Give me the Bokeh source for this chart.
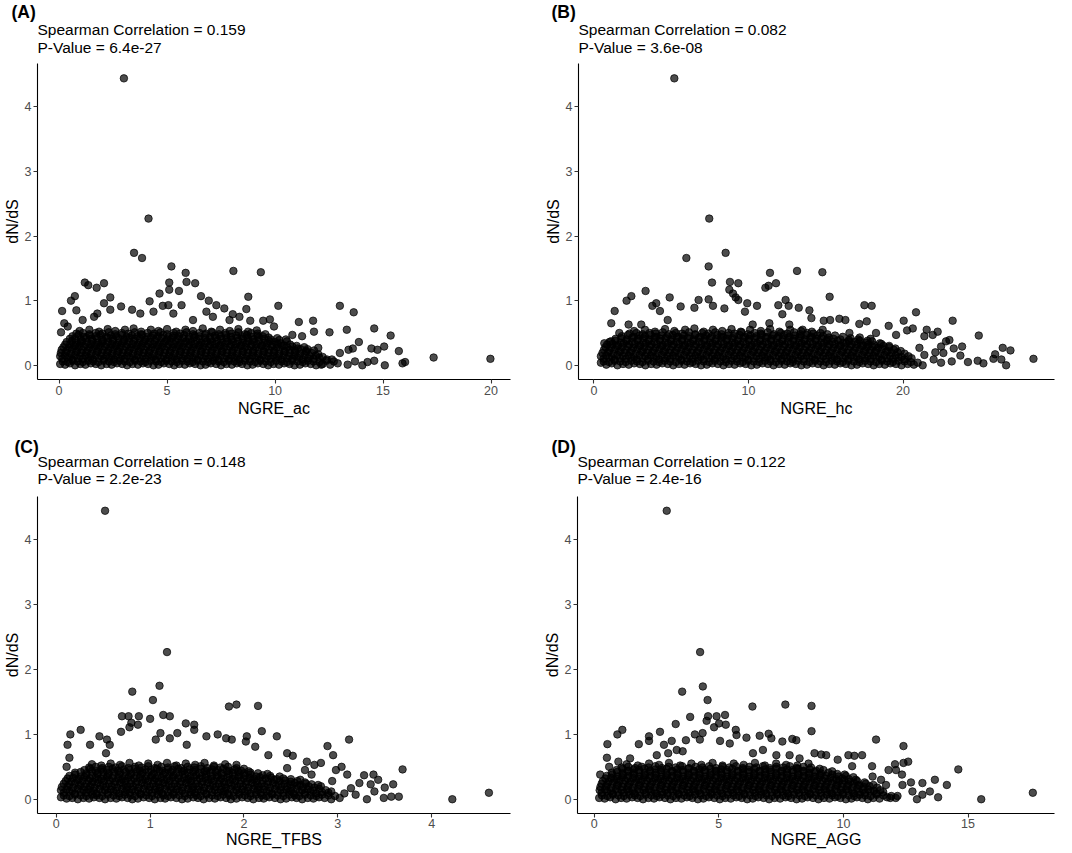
from bokeh.plotting import figure
from bokeh.layouts import column, row
from bokeh.models import FixedTicker, Range1d, Title, ColumnDataSource
from bokeh.embed import file_html
from bokeh.resources import INLINE

FONT = "Liberation Sans"

# ---------------- data ----------------
tags = ["(A)", "(B)", "(C)", "(D)"]
rho_text = ["Spearman Correlation = 0.159", "Spearman Correlation = 0.082",
            "Spearman Correlation = 0.148", "Spearman Correlation = 0.122"]
pval_text = ["P-Value = 6.4e-27", "P-Value = 3.6e-08", "P-Value = 2.2e-23", "P-Value = 2.4e-16"]
x_labels = ["NGRE_ac", "NGRE_hc", "NGRE_TFBS", "NGRE_AGG"]
x_ticks = [[0, 5, 10, 15, 20], [0, 10, 20], [0, 1, 2, 3, 4], [0, 5, 10, 15]]
y_ticks = [0, 1, 2, 3, 4]

# Panel A: NGRE_ac vs dN/dS -- sparse points
ac_sparse = [(3.0,4.44),(4.14,2.27),(3.47,1.74),(3.84,1.66),(5.2,1.53),(5.86,1.43),(8.07,1.46),(9.34,1.44),
(1.19,1.28),(1.35,1.24),(1.74,1.2),(2.08,1.27),(5.1,1.28),(5.9,1.29),(6.3,1.27),(5.1,1.17),(5.55,1.15),
(0.73,1.07),(0.55,1.0),(0.14,0.84),(0.24,0.65),(0.09,0.51),(0.8,0.85),(2.37,1.05),(2.08,0.96),(2.87,0.91),
(4.19,0.99),(4.65,1.11),(4.8,0.92),(5.06,0.93),(6.57,1.07),(6.93,1.0),(7.28,0.93),(7.65,0.88),(8.04,0.79),
(8.76,1.06),(8.67,0.87),(8.85,0.69),(9.45,0.69),(9.76,0.71),(10.15,0.92),(9.95,0.6),(11.1,0.67),(11.76,0.69),
(13.0,0.92),(13.64,0.82),(13.32,0.55),(12.52,0.51),(13.88,0.36),(14.59,0.57),(15.35,0.46),(15.05,0.29),
(14.46,0.26),(14.74,0.24),(15.73,0.22),(14.59,0.07),(15.08,0.0),(15.9,0.03),(16.02,0.05),(14.28,0.05),
(14.04,0.0),(17.34,0.12),(19.97,0.1),(13.4,0.24),(13.6,0.26),(13.7,0.06),(13.36,0.01),(13.0,0.19),
(12.63,0.09),(12.14,0.01),(11.5,0.25),(12.0,0.27),(11.25,0.45),(10.8,0.47),(10.5,0.4),(11.8,0.52),
(7.12,0.75),(6.82,0.83),(6.2,0.7),(5.67,0.93),(3.76,0.8),(3.38,0.86),(2.37,0.86),(1.77,0.8),(1.62,0.75),
(1.09,0.7),(0.4,0.6),(4.37,0.83),(5.29,0.8),(7.89,0.7),(8.35,0.75)]

# Panel A: dense core (rows near dN/dS 0.02, 0.1, 0.19, 0.28, 0.37, 0.45, 0.54)
ac_core = [(0.05,0.02),(0.28,0.01),(0.5,0.03),(0.74,0.0),(0.98,0.02),(1.22,0.01),(1.47,0.03),(1.7,0.02),(1.95,0.0),(2.2,0.02),(2.43,0.01),(2.68,0.03),(2.92,0.02),(3.15,0.0),(3.4,0.02),(3.65,0.01),(3.88,0.03),(4.12,0.02),(4.37,0.0),(4.6,0.01),(4.85,0.03),(5.1,0.02),(5.33,0.0),(5.57,0.02),(5.82,0.01),(6.05,0.03),(6.3,0.02),(6.55,0.0),(6.78,0.01),(7.02,0.03),(7.27,0.02),(7.5,0.0),(7.75,0.02),(8.0,0.01),(8.23,0.03),(8.47,0.02),(8.72,0.0),(8.96,0.01),(9.2,0.03),(9.45,0.02),(9.68,0.0),(9.93,0.02),(10.18,0.01),(10.42,0.03),(10.67,0.02),(10.9,0.0),(11.15,0.01),(11.4,0.03),(11.65,0.02),(11.9,0.0),(12.2,0.02),(12.55,0.01),(12.9,0.03),
(0.15,0.1),(0.4,0.12),(0.62,0.09),(0.86,0.11),(1.1,0.1),(1.35,0.12),(1.58,0.09),(1.83,0.11),(2.07,0.1),(2.32,0.12),(2.55,0.09),(2.8,0.11),(3.03,0.1),(3.28,0.12),(3.52,0.09),(3.76,0.11),(4.0,0.1),(4.25,0.12),(4.48,0.09),(4.72,0.11),(4.97,0.1),(5.22,0.12),(5.45,0.09),(5.7,0.11),(5.94,0.1),(6.18,0.12),(6.42,0.09),(6.67,0.11),(6.9,0.1),(7.15,0.12),(7.38,0.09),(7.63,0.11),(7.87,0.1),(8.12,0.12),(8.35,0.09),(8.6,0.11),(8.84,0.1),(9.08,0.12),(9.32,0.09),(9.57,0.11),(9.8,0.1),(10.05,0.12),(10.3,0.09),(10.55,0.11),(10.8,0.1),(11.03,0.12),(11.28,0.09),(11.52,0.11),(11.78,0.1),(12.05,0.12),(12.4,0.09),
(0.08,0.19),(0.3,0.2),(0.55,0.18),(0.78,0.21),(1.02,0.19),(1.26,0.2),(1.5,0.18),(1.75,0.21),(1.98,0.19),(2.23,0.2),(2.47,0.18),(2.7,0.21),(2.95,0.19),(3.2,0.2),(3.43,0.18),(3.67,0.21),(3.92,0.19),(4.15,0.2),(4.4,0.18),(4.64,0.21),(4.88,0.19),(5.12,0.2),(5.36,0.18),(5.6,0.21),(5.85,0.19),(6.08,0.2),(6.33,0.18),(6.57,0.21),(6.8,0.19),(7.05,0.2),(7.3,0.18),(7.53,0.21),(7.78,0.19),(8.02,0.2),(8.26,0.18),(8.5,0.21),(8.75,0.19),(8.98,0.2),(9.23,0.18),(9.47,0.21),(9.7,0.19),(9.95,0.2),(10.2,0.18),(10.44,0.21),(10.68,0.19),(10.92,0.2),(11.17,0.18),(11.42,0.21),(11.7,0.19),(12.0,0.17),
(0.2,0.28),(0.45,0.27),(0.68,0.3),(0.92,0.28),(1.15,0.29),(1.4,0.27),(1.63,0.3),(1.88,0.28),(2.12,0.29),(2.36,0.27),(2.6,0.3),(2.84,0.28),(3.08,0.29),(3.32,0.27),(3.56,0.3),(3.8,0.28),(4.04,0.29),(4.28,0.27),(4.52,0.3),(4.76,0.28),(5.0,0.29),(5.25,0.27),(5.48,0.3),(5.72,0.28),(5.97,0.29),(6.2,0.27),(6.45,0.3),(6.68,0.28),(6.93,0.29),(7.17,0.27),(7.4,0.3),(7.65,0.28),(7.9,0.29),(8.13,0.27),(8.38,0.3),(8.62,0.28),(8.86,0.29),(9.1,0.27),(9.35,0.3),(9.58,0.28),(9.83,0.29),(10.07,0.27),(10.32,0.3),(10.56,0.28),(10.8,0.29),(11.05,0.26),(11.35,0.28),
(0.35,0.36),(0.6,0.38),(0.83,0.35),(1.07,0.37),(1.3,0.36),(1.55,0.38),(1.8,0.35),(2.03,0.37),(2.27,0.36),(2.5,0.38),(2.75,0.35),(3.0,0.37),(3.23,0.36),(3.47,0.38),(3.72,0.35),(3.95,0.37),(4.2,0.36),(4.43,0.38),(4.68,0.35),(4.92,0.37),(5.16,0.36),(5.4,0.38),(5.64,0.35),(5.88,0.37),(6.12,0.36),(6.37,0.38),(6.6,0.35),(6.85,0.37),(7.08,0.36),(7.33,0.38),(7.57,0.35),(7.8,0.37),(8.05,0.36),(8.3,0.38),(8.53,0.35),(8.77,0.37),(9.02,0.36),(9.25,0.38),(9.5,0.35),(9.75,0.37),(10.0,0.36),(10.25,0.34),(10.55,0.37),
(0.62,0.45),(0.9,0.47),(1.15,0.44),(1.42,0.46),(1.68,0.45),(1.92,0.47),(2.17,0.44),(2.4,0.46),(2.65,0.45),(2.9,0.47),(3.12,0.44),(3.37,0.46),(3.62,0.45),(3.85,0.47),(4.1,0.44),(4.35,0.46),(4.58,0.45),(4.82,0.47),(5.07,0.44),(5.3,0.46),(5.55,0.45),(5.78,0.47),(6.02,0.44),(6.27,0.46),(6.5,0.45),(6.75,0.47),(7.0,0.44),(7.22,0.46),(7.48,0.45),(7.72,0.47),(7.95,0.44),(8.2,0.46),(8.45,0.45),(8.7,0.47),(8.93,0.44),(9.18,0.46),(9.42,0.45),(9.7,0.43),(10.1,0.42),
(0.95,0.53),(1.4,0.55),(1.85,0.52),(2.25,0.56),(2.6,0.53),(3.05,0.55),(3.45,0.57),(3.8,0.52),(4.25,0.55),(4.6,0.53),(5.0,0.56),(5.42,0.52),(5.85,0.55),(6.2,0.53),(6.65,0.57),(7.05,0.52),(7.45,0.55),(7.9,0.53),(8.3,0.56),(8.75,0.52),(9.15,0.54)]

# Panel A: dense core, in-between rows (near 0.06, 0.145, 0.235, 0.32, 0.41, 0.49)
ac_core_mid = [(0.17,0.06),(0.4,0.05),(0.63,0.07),(0.86,0.06),(1.1,0.05),(1.34,0.07),(1.58,0.06),(1.82,0.05),(2.07,0.07),(2.31,0.06),(2.55,0.05),(2.8,0.07),(3.04,0.06),(3.28,0.05),(3.52,0.07),(3.77,0.06),(4.0,0.05),(4.24,0.07),(4.49,0.06),(4.73,0.05),(4.97,0.07),(5.21,0.06),(5.45,0.05),(5.7,0.07),(5.94,0.06),(6.18,0.05),(6.42,0.07),(6.66,0.06),(6.9,0.05),(7.14,0.07),(7.39,0.06),(7.63,0.05),(7.87,0.07),(8.11,0.06),(8.35,0.05),(8.6,0.07),(8.84,0.06),(9.08,0.05),(9.32,0.07),(9.56,0.06),(9.8,0.05),(10.05,0.07),(10.3,0.06),(10.55,0.05),(10.79,0.07),(11.03,0.06),(11.28,0.05),(11.52,0.07),(11.78,0.06),(12.05,0.05),(12.38,0.07),(12.72,0.06),
(0.05,0.14),(0.27,0.15),(0.5,0.13),(0.74,0.16),(0.98,0.14),(1.22,0.15),(1.46,0.13),(1.7,0.16),(1.95,0.14),(2.19,0.15),(2.43,0.13),(2.67,0.16),(2.91,0.14),(3.15,0.15),(3.4,0.13),(3.64,0.16),(3.88,0.14),(4.12,0.15),(4.36,0.13),(4.6,0.16),(4.84,0.14),(5.09,0.15),(5.33,0.13),(5.57,0.16),(5.81,0.14),(6.05,0.15),(6.3,0.13),(6.54,0.16),(6.78,0.14),(7.02,0.15),(7.26,0.13),(7.5,0.16),(7.75,0.14),(7.99,0.15),(8.23,0.13),(8.47,0.16),(8.71,0.14),(8.95,0.15),(9.2,0.13),(9.44,0.16),(9.68,0.14),(9.92,0.15),(10.16,0.13),(10.4,0.16),(10.65,0.14),(10.89,0.15),(11.13,0.13),(11.38,0.16),(11.62,0.14),(11.88,0.15),(12.2,0.13),
(0.12,0.24),(0.36,0.23),(0.6,0.25),(0.84,0.22),(1.08,0.24),(1.32,0.23),(1.56,0.25),(1.8,0.22),(2.04,0.24),(2.28,0.23),(2.52,0.25),(2.76,0.22),(3.0,0.24),(3.24,0.23),(3.48,0.25),(3.72,0.22),(3.96,0.24),(4.2,0.23),(4.44,0.25),(4.68,0.22),(4.92,0.24),(5.16,0.23),(5.4,0.25),(5.64,0.22),(5.88,0.24),(6.12,0.23),(6.36,0.25),(6.6,0.22),(6.84,0.24),(7.08,0.23),(7.32,0.25),(7.56,0.22),(7.8,0.24),(8.04,0.23),(8.28,0.25),(8.52,0.22),(8.76,0.24),(9.0,0.23),(9.24,0.25),(9.48,0.22),(9.72,0.24),(9.96,0.23),(10.2,0.25),(10.44,0.22),(10.68,0.24),(10.92,0.23),(11.18,0.25),(11.45,0.22),(11.8,0.23),
(0.28,0.32),(0.52,0.33),(0.76,0.31),(1.0,0.34),(1.24,0.32),(1.48,0.33),(1.72,0.31),(1.96,0.34),(2.2,0.32),(2.44,0.33),(2.68,0.31),(2.92,0.34),(3.16,0.32),(3.4,0.33),(3.64,0.31),(3.88,0.34),(4.12,0.32),(4.36,0.33),(4.6,0.31),(4.84,0.34),(5.08,0.32),(5.32,0.33),(5.56,0.31),(5.8,0.34),(6.04,0.32),(6.28,0.33),(6.52,0.31),(6.76,0.34),(7.0,0.32),(7.24,0.33),(7.48,0.31),(7.72,0.34),(7.96,0.32),(8.2,0.33),(8.44,0.31),(8.68,0.34),(8.92,0.32),(9.16,0.33),(9.4,0.31),(9.64,0.34),(9.88,0.32),(10.12,0.33),(10.4,0.31),(10.7,0.32),(11.0,0.3),
(0.5,0.41),(0.75,0.42),(1.0,0.4),(1.25,0.43),(1.5,0.41),(1.75,0.42),(2.0,0.4),(2.25,0.43),(2.5,0.41),(2.75,0.42),(3.0,0.4),(3.25,0.43),(3.5,0.41),(3.75,0.42),(4.0,0.4),(4.25,0.43),(4.5,0.41),(4.75,0.42),(5.0,0.4),(5.25,0.43),(5.5,0.41),(5.75,0.42),(6.0,0.4),(6.25,0.43),(6.5,0.41),(6.75,0.42),(7.0,0.4),(7.25,0.43),(7.5,0.41),(7.75,0.42),(8.0,0.4),(8.25,0.43),(8.5,0.41),(8.75,0.42),(9.0,0.4),(9.25,0.43),(9.5,0.41),(9.8,0.4),(10.2,0.39),
(0.8,0.49),(1.1,0.5),(1.4,0.48),(1.7,0.5),(2.0,0.49),(2.3,0.51),(2.6,0.48),(2.9,0.5),(3.2,0.49),(3.5,0.51),(3.8,0.48),(4.1,0.5),(4.4,0.49),(4.7,0.51),(5.0,0.48),(5.3,0.5),(5.6,0.49),(5.9,0.51),(6.2,0.48),(6.5,0.5),(6.8,0.49),(7.1,0.51),(7.4,0.48),(7.7,0.5),(8.0,0.49),(8.3,0.51),(8.6,0.48),(8.9,0.5),(9.2,0.49),(9.55,0.48)]

# Panel B: NGRE_hc vs dN/dS -- sparse points
hc_sparse = [(5.2,4.44),(7.46,2.27),(8.52,1.74),(5.98,1.66),(7.42,1.53),(11.39,1.43),(13.14,1.46),(14.78,1.44),
(7.64,1.28),(8.8,1.29),(9.34,1.27),(11.09,1.2),(11.3,1.23),(11.78,1.27),(8.76,1.17),(9.0,1.11),(9.17,1.05),
(2.42,1.07),(2.11,1.0),(1.34,0.84),(1.12,0.65),(3.34,1.15),(4.9,1.05),(3.78,0.92),(4.03,0.96),(4.27,0.84),
(5.61,0.91),(6.77,1.01),(6.5,0.89),(7.42,1.02),(7.7,0.92),(8.44,0.88),(9.92,0.96),(9.34,1.01),(10.55,0.92),
(9.77,0.83),(12.4,1.01),(11.93,0.93),(12.6,0.92),(13.25,0.89),(13.94,0.85),(12.19,0.79),(15.25,1.06),
(14.87,0.69),(15.28,0.7),(15.88,0.72),(16.27,0.7),(14.07,0.73),(17.5,0.93),(17.97,0.92),(17.17,0.64),
(17.65,0.68),(19.07,0.61),(20.04,0.69),(20.84,0.82),(20.26,0.54),(20.63,0.57),(19.55,0.47),(21.38,0.45),
(21.53,0.55),(22.24,0.52),(21.92,0.47),(23.21,0.69),(24.9,0.46),(22.78,0.37),(22.46,0.29),(22.09,0.2),
(23.28,0.26),(23.82,0.29),(23.0,0.39),(22.61,0.19),(23.15,0.06),(23.71,0.15),(24.2,0.05),(24.83,0.07),
(25.2,0.03),(25.85,0.1),(25.96,0.17),(26.45,0.27),(26.95,0.23),(26.36,0.09),(26.67,0.0),(28.44,0.1),
(21.98,0.09),(21.38,0.16),(22.46,0.04),(21.27,0.0),(21.06,0.27),(1.1,0.37),(0.67,0.34),(1.64,0.5),
(2.24,0.63),(3.06,0.63),(4.77,0.7),(12.64,0.63),(13.5,0.55),(16.53,0.5),(18.25,0.5),(11.35,0.65),(10.27,0.63)]

# Panel B: dense core
hc_core = [(0.45,0.04),(0.8,0.01),(1.15,0.03),(1.52,0.0),(1.88,0.02),(2.25,0.01),(2.6,0.03),(2.97,0.02),(3.33,0.0),(3.7,0.02),(4.05,0.01),(4.42,0.03),(4.78,0.02),(5.13,0.0),(5.5,0.02),(5.86,0.01),(6.22,0.03),(6.58,0.02),(6.93,0.0),(7.3,0.01),(7.66,0.03),(8.02,0.02),(8.38,0.0),(8.74,0.02),(9.1,0.01),(9.46,0.03),(9.82,0.02),(10.18,0.0),(10.54,0.01),(10.9,0.03),(11.26,0.02),(11.62,0.0),(11.98,0.02),(12.34,0.01),(12.7,0.03),(13.06,0.02),(13.42,0.0),(13.78,0.01),(14.14,0.03),(14.5,0.02),(14.86,0.0),(15.22,0.02),(15.58,0.01),(15.94,0.03),(16.3,0.02),(16.66,0.0),(17.02,0.01),(17.38,0.03),(17.74,0.02),(18.1,0.0),(18.46,0.02),(18.82,0.01),(19.18,0.03),(19.54,0.02),(19.9,0.0),(20.3,0.02),(20.7,0.01),
(0.62,0.1),(0.98,0.12),(1.34,0.09),(1.7,0.11),(2.06,0.1),(2.42,0.12),(2.78,0.09),(3.14,0.11),(3.5,0.1),(3.86,0.12),(4.22,0.09),(4.58,0.11),(4.94,0.1),(5.3,0.12),(5.66,0.09),(6.02,0.11),(6.38,0.1),(6.74,0.12),(7.1,0.09),(7.46,0.11),(7.82,0.1),(8.18,0.12),(8.54,0.09),(8.9,0.11),(9.26,0.1),(9.62,0.12),(9.98,0.09),(10.34,0.11),(10.7,0.1),(11.06,0.12),(11.42,0.09),(11.78,0.11),(12.14,0.1),(12.5,0.12),(12.86,0.09),(13.22,0.11),(13.58,0.1),(13.94,0.12),(14.3,0.09),(14.66,0.11),(15.02,0.1),(15.38,0.12),(15.74,0.09),(16.1,0.11),(16.46,0.1),(16.82,0.12),(17.18,0.09),(17.54,0.11),(17.9,0.1),(18.26,0.12),(18.62,0.09),(18.98,0.11),(19.34,0.1),(19.7,0.12),(20.1,0.09),(20.55,0.11),
(0.55,0.19),(0.9,0.2),(1.26,0.18),(1.62,0.21),(1.98,0.19),(2.34,0.2),(2.7,0.18),(3.06,0.21),(3.42,0.19),(3.78,0.2),(4.14,0.18),(4.5,0.21),(4.86,0.19),(5.22,0.2),(5.58,0.18),(5.94,0.21),(6.3,0.19),(6.66,0.2),(7.02,0.18),(7.38,0.21),(7.74,0.19),(8.1,0.2),(8.46,0.18),(8.82,0.21),(9.18,0.19),(9.54,0.2),(9.9,0.18),(10.26,0.21),(10.62,0.19),(10.98,0.2),(11.34,0.18),(11.7,0.21),(12.06,0.19),(12.42,0.2),(12.78,0.18),(13.14,0.21),(13.5,0.19),(13.86,0.2),(14.22,0.18),(14.58,0.21),(14.94,0.19),(15.3,0.2),(15.66,0.18),(16.02,0.21),(16.38,0.19),(16.74,0.2),(17.1,0.18),(17.46,0.21),(17.82,0.19),(18.18,0.2),(18.54,0.18),(18.9,0.21),(19.26,0.19),(19.65,0.2),(20.1,0.18),
(0.75,0.28),(1.1,0.27),(1.46,0.3),(1.82,0.28),(2.18,0.29),(2.54,0.27),(2.9,0.3),(3.26,0.28),(3.62,0.29),(3.98,0.27),(4.34,0.3),(4.7,0.28),(5.06,0.29),(5.42,0.27),(5.78,0.3),(6.14,0.28),(6.5,0.29),(6.86,0.27),(7.22,0.3),(7.58,0.28),(7.94,0.29),(8.3,0.27),(8.66,0.3),(9.02,0.28),(9.38,0.29),(9.74,0.27),(10.1,0.3),(10.46,0.28),(10.82,0.29),(11.18,0.27),(11.54,0.3),(11.9,0.28),(12.26,0.29),(12.62,0.27),(12.98,0.3),(13.34,0.28),(13.7,0.29),(14.06,0.27),(14.42,0.3),(14.78,0.28),(15.14,0.29),(15.5,0.27),(15.86,0.3),(16.22,0.28),(16.58,0.29),(16.94,0.27),(17.3,0.3),(17.66,0.28),(18.02,0.29),(18.38,0.27),(18.74,0.3),(19.1,0.28),(19.5,0.26),
(1.0,0.36),(1.38,0.38),(1.74,0.35),(2.1,0.37),(2.46,0.36),(2.82,0.38),(3.18,0.35),(3.54,0.37),(3.9,0.36),(4.26,0.38),(4.62,0.35),(4.98,0.37),(5.34,0.36),(5.7,0.38),(6.06,0.35),(6.42,0.37),(6.78,0.36),(7.14,0.38),(7.5,0.35),(7.86,0.37),(8.22,0.36),(8.58,0.38),(8.94,0.35),(9.3,0.37),(9.66,0.36),(10.02,0.38),(10.38,0.35),(10.74,0.37),(11.1,0.36),(11.46,0.38),(11.82,0.35),(12.18,0.37),(12.54,0.36),(12.9,0.38),(13.26,0.35),(13.62,0.37),(13.98,0.36),(14.34,0.38),(14.7,0.35),(15.06,0.37),(15.42,0.36),(15.78,0.38),(16.14,0.35),(16.5,0.37),(16.86,0.36),(17.22,0.38),(17.6,0.35),(18.0,0.37),(18.5,0.34),
(1.8,0.45),(2.2,0.47),(2.58,0.44),(2.95,0.46),(3.3,0.45),(3.66,0.47),(4.02,0.44),(4.38,0.46),(4.74,0.45),(5.1,0.47),(5.46,0.44),(5.82,0.46),(6.18,0.45),(6.54,0.47),(6.9,0.44),(7.26,0.46),(7.62,0.45),(7.98,0.47),(8.34,0.44),(8.7,0.46),(9.06,0.45),(9.42,0.47),(9.78,0.44),(10.14,0.46),(10.5,0.45),(10.86,0.47),(11.22,0.44),(11.58,0.46),(11.94,0.45),(12.3,0.47),(12.66,0.44),(13.02,0.46),(13.38,0.45),(13.74,0.47),(14.1,0.44),(14.46,0.46),(14.82,0.45),(15.2,0.43),(15.6,0.46),(16.1,0.44),(16.6,0.42),(17.2,0.43),(17.9,0.41),
(2.6,0.53),(3.3,0.55),(3.95,0.52),(4.6,0.56),(5.2,0.53),(5.9,0.55),(6.5,0.57),(7.1,0.52),(7.7,0.55),(8.3,0.53),(8.9,0.56),(9.5,0.52),(10.1,0.55),(10.8,0.53),(11.4,0.56),(12.0,0.52),(12.7,0.55),(13.4,0.53),(14.1,0.52),(14.8,0.55)]

hc_core_mid = [(0.63,0.06),(0.98,0.05),(1.34,0.07),(1.7,0.06),(2.06,0.05),(2.42,0.07),(2.78,0.06),(3.14,0.05),(3.5,0.07),(3.86,0.06),(4.22,0.05),(4.58,0.07),(4.94,0.06),(5.3,0.05),(5.66,0.07),(6.02,0.06),(6.38,0.05),(6.74,0.07),(7.1,0.06),(7.46,0.05),(7.82,0.07),(8.18,0.06),(8.54,0.05),(8.9,0.07),(9.26,0.06),(9.62,0.05),(9.98,0.07),(10.34,0.06),(10.7,0.05),(11.06,0.07),(11.42,0.06),(11.78,0.05),(12.14,0.07),(12.5,0.06),(12.86,0.05),(13.22,0.07),(13.58,0.06),(13.94,0.05),(14.3,0.07),(14.66,0.06),(15.02,0.05),(15.38,0.07),(15.74,0.06),(16.1,0.05),(16.46,0.07),(16.82,0.06),(17.18,0.05),(17.54,0.07),(17.9,0.06),(18.26,0.05),(18.62,0.07),(18.98,0.06),(19.34,0.05),(19.7,0.07),(20.1,0.06),(20.5,0.05),(20.95,0.04),
(0.45,0.14),(0.8,0.15),(1.16,0.13),(1.52,0.16),(1.88,0.14),(2.24,0.15),(2.6,0.13),(2.96,0.16),(3.32,0.14),(3.68,0.15),(4.04,0.13),(4.4,0.16),(4.76,0.14),(5.12,0.15),(5.48,0.13),(5.84,0.16),(6.2,0.14),(6.56,0.15),(6.92,0.13),(7.28,0.16),(7.64,0.14),(8.0,0.15),(8.36,0.13),(8.72,0.16),(9.08,0.14),(9.44,0.15),(9.8,0.13),(10.16,0.16),(10.52,0.14),(10.88,0.15),(11.24,0.13),(11.6,0.16),(11.96,0.14),(12.32,0.15),(12.68,0.13),(13.04,0.16),(13.4,0.14),(13.76,0.15),(14.12,0.13),(14.48,0.16),(14.84,0.14),(15.2,0.15),(15.56,0.13),(15.92,0.16),(16.28,0.14),(16.64,0.15),(17.0,0.13),(17.36,0.16),(17.72,0.14),(18.08,0.15),(18.44,0.13),(18.8,0.16),(19.16,0.14),(19.52,0.15),(19.9,0.13),(20.35,0.14),
(0.65,0.24),(1.0,0.23),(1.36,0.25),(1.72,0.22),(2.08,0.24),(2.44,0.23),(2.8,0.25),(3.16,0.22),(3.52,0.24),(3.88,0.23),(4.24,0.25),(4.6,0.22),(4.96,0.24),(5.32,0.23),(5.68,0.25),(6.04,0.22),(6.4,0.24),(6.76,0.23),(7.12,0.25),(7.48,0.22),(7.84,0.24),(8.2,0.23),(8.56,0.25),(8.92,0.22),(9.28,0.24),(9.64,0.23),(10.0,0.25),(10.36,0.22),(10.72,0.24),(11.08,0.23),(11.44,0.25),(11.8,0.22),(12.16,0.24),(12.52,0.23),(12.88,0.25),(13.24,0.22),(13.6,0.24),(13.96,0.23),(14.32,0.25),(14.68,0.22),(15.04,0.24),(15.4,0.23),(15.76,0.25),(16.12,0.22),(16.48,0.24),(16.84,0.23),(17.2,0.25),(17.56,0.22),(17.92,0.24),(18.28,0.23),(18.64,0.25),(19.0,0.22),(19.4,0.24),(19.85,0.22),
(0.85,0.32),(1.2,0.33),(1.56,0.31),(1.92,0.34),(2.28,0.32),(2.64,0.33),(3.0,0.31),(3.36,0.34),(3.72,0.32),(4.08,0.33),(4.44,0.31),(4.8,0.34),(5.16,0.32),(5.52,0.33),(5.88,0.31),(6.24,0.34),(6.6,0.32),(6.96,0.33),(7.32,0.31),(7.68,0.34),(8.04,0.32),(8.4,0.33),(8.76,0.31),(9.12,0.34),(9.48,0.32),(9.84,0.33),(10.2,0.31),(10.56,0.34),(10.92,0.32),(11.28,0.33),(11.64,0.31),(12.0,0.34),(12.36,0.32),(12.72,0.33),(13.08,0.31),(13.44,0.34),(13.8,0.32),(14.16,0.33),(14.52,0.31),(14.88,0.34),(15.24,0.32),(15.6,0.33),(15.96,0.31),(16.32,0.34),(16.68,0.32),(17.04,0.33),(17.4,0.31),(17.76,0.32),(18.15,0.31),(18.6,0.33),(19.1,0.3),
(1.4,0.41),(1.76,0.42),(2.12,0.4),(2.48,0.43),(2.84,0.41),(3.2,0.42),(3.56,0.4),(3.92,0.43),(4.28,0.41),(4.64,0.42),(5.0,0.4),(5.36,0.43),(5.72,0.41),(6.08,0.42),(6.44,0.4),(6.8,0.43),(7.16,0.41),(7.52,0.42),(7.88,0.4),(8.24,0.43),(8.6,0.41),(8.96,0.42),(9.32,0.4),(9.68,0.43),(10.04,0.41),(10.4,0.42),(10.76,0.4),(11.12,0.43),(11.48,0.41),(11.84,0.42),(12.2,0.4),(12.56,0.43),(12.92,0.41),(13.28,0.42),(13.64,0.4),(14.0,0.43),(14.36,0.41),(14.72,0.42),(15.1,0.4),(15.5,0.41),(15.95,0.4),(16.5,0.39),(17.1,0.4),(17.7,0.38),
(2.3,0.49),(2.75,0.5),(3.15,0.48),(3.6,0.5),(4.0,0.49),(4.45,0.51),(4.85,0.48),(5.3,0.5),(5.7,0.49),(6.15,0.51),(6.55,0.48),(7.0,0.5),(7.4,0.49),(7.85,0.51),(8.25,0.48),(8.7,0.5),(9.1,0.49),(9.55,0.51),(9.95,0.48),(10.4,0.5),(10.8,0.49),(11.25,0.51),(11.65,0.48),(12.1,0.5),(12.5,0.49),(12.95,0.51),(13.35,0.48),(13.8,0.5),(14.2,0.49),(14.65,0.5),(15.1,0.48)]

# Panel C: NGRE_TFBS vs dN/dS -- sparse points
tfbs_sparse = [(0.52,4.45),(1.18,2.27),(1.1,1.75),(0.81,1.66),(1.03,1.53),(1.84,1.43),(1.92,1.46),(2.15,1.44),
(0.7,1.28),(0.77,1.28),(0.88,1.28),(0.8,1.18),(0.87,1.15),(0.78,1.11),(1.0,1.24),(1.14,1.3),(1.21,1.28),
(1.38,1.17),(1.47,1.15),(1.47,1.07),(0.26,1.07),(0.15,1.0),(0.12,0.84),(0.14,0.64),(0.11,0.5),(0.36,0.84),
(0.46,0.97),(0.54,0.92),(0.69,1.04),(0.57,0.84),(0.53,0.71),(1.11,1.02),(1.06,0.92),(1.29,1.02),(1.21,0.94),
(1.39,0.84),(1.6,0.97),(1.72,1.0),(1.81,0.94),(1.87,0.92),(2.02,0.89),(2.03,0.97),(2.19,1.05),(2.12,0.81),
(2.35,0.97),(2.26,0.68),(2.46,0.71),(2.52,0.67),(2.89,0.82),(2.95,0.68),(3.12,0.92),(2.67,0.58),(2.75,0.53),
(2.82,0.56),(3.04,0.5),(2.98,0.45),(3.1,0.38),(3.69,0.46),(3.28,0.37),(3.38,0.38),(3.43,0.3),(3.35,0.23),
(3.59,0.23),(3.5,0.18),(3.49,0.02),(3.57,0.04),(3.65,0.04),(3.31,0.0),(3.19,0.07),(3.14,0.17),(3.23,0.25),
(3.02,0.02),(4.22,0.0),(4.61,0.1),(3.39,0.12),(3.07,0.09),(2.93,0.12),(2.94,0.28),(2.65,0.45),(2.72,0.38),
(2.46,0.48)]

# Panel C: dense core
tfbs_core = [(0.05,0.03),(0.11,0.01),(0.17,0.02),(0.23,0.0),(0.29,0.02),(0.35,0.01),(0.4,0.03),(0.46,0.02),(0.52,0.0),(0.58,0.02),(0.64,0.01),(0.7,0.03),(0.76,0.02),(0.81,0.0),(0.87,0.01),(0.93,0.03),(0.99,0.02),(1.05,0.0),(1.11,0.02),(1.16,0.01),(1.22,0.03),(1.28,0.02),(1.34,0.0),(1.4,0.01),(1.46,0.03),(1.51,0.02),(1.57,0.0),(1.63,0.02),(1.69,0.01),(1.75,0.03),(1.81,0.02),(1.86,0.0),(1.92,0.01),(1.98,0.03),(2.04,0.02),(2.1,0.0),(2.16,0.02),(2.21,0.01),(2.27,0.03),(2.33,0.02),(2.39,0.0),(2.45,0.01),(2.51,0.03),(2.56,0.02),(2.62,0.0),(2.68,0.02),(2.74,0.01),(2.8,0.03),(2.86,0.02),(2.93,0.0),
(0.08,0.1),(0.14,0.12),(0.2,0.09),(0.26,0.11),(0.32,0.1),(0.37,0.12),(0.43,0.09),(0.49,0.11),(0.55,0.1),(0.61,0.12),(0.67,0.09),(0.73,0.11),(0.78,0.1),(0.84,0.12),(0.9,0.09),(0.96,0.11),(1.02,0.1),(1.08,0.12),(1.13,0.09),(1.19,0.11),(1.25,0.1),(1.31,0.12),(1.37,0.09),(1.43,0.11),(1.48,0.1),(1.54,0.12),(1.6,0.09),(1.66,0.11),(1.72,0.1),(1.78,0.12),(1.83,0.09),(1.89,0.11),(1.95,0.1),(2.01,0.12),(2.07,0.09),(2.13,0.11),(2.18,0.1),(2.24,0.12),(2.3,0.09),(2.36,0.11),(2.42,0.1),(2.48,0.12),(2.53,0.09),(2.59,0.11),(2.65,0.1),(2.71,0.12),(2.77,0.09),(2.83,0.11),(2.9,0.1),
(0.06,0.19),(0.12,0.2),(0.18,0.18),(0.24,0.21),(0.3,0.19),(0.36,0.2),(0.41,0.18),(0.47,0.21),(0.53,0.19),(0.59,0.2),(0.65,0.18),(0.71,0.21),(0.76,0.19),(0.82,0.2),(0.88,0.18),(0.94,0.21),(1.0,0.19),(1.06,0.2),(1.11,0.18),(1.17,0.21),(1.23,0.19),(1.29,0.2),(1.35,0.18),(1.41,0.21),(1.46,0.19),(1.52,0.2),(1.58,0.18),(1.64,0.21),(1.7,0.19),(1.76,0.2),(1.81,0.18),(1.87,0.21),(1.93,0.19),(1.99,0.2),(2.05,0.18),(2.11,0.21),(2.16,0.19),(2.22,0.2),(2.28,0.18),(2.34,0.21),(2.4,0.19),(2.46,0.2),(2.51,0.18),(2.57,0.21),(2.63,0.19),(2.69,0.2),(2.75,0.18),(2.82,0.2),
(0.1,0.28),(0.16,0.27),(0.22,0.3),(0.28,0.28),(0.34,0.29),(0.39,0.27),(0.45,0.3),(0.51,0.28),(0.57,0.29),(0.63,0.27),(0.69,0.3),(0.74,0.28),(0.8,0.29),(0.86,0.27),(0.92,0.3),(0.98,0.28),(1.04,0.29),(1.09,0.27),(1.15,0.3),(1.21,0.28),(1.27,0.29),(1.33,0.27),(1.39,0.3),(1.44,0.28),(1.5,0.29),(1.56,0.27),(1.62,0.3),(1.68,0.28),(1.74,0.29),(1.79,0.27),(1.85,0.3),(1.91,0.28),(1.97,0.29),(2.03,0.27),(2.09,0.3),(2.14,0.28),(2.2,0.29),(2.26,0.27),(2.32,0.3),(2.38,0.28),(2.44,0.29),(2.5,0.27),(2.57,0.28),(2.65,0.26),
(0.14,0.36),(0.2,0.38),(0.26,0.35),(0.32,0.37),(0.38,0.36),(0.44,0.38),(0.5,0.35),(0.55,0.37),(0.61,0.36),(0.67,0.38),(0.73,0.35),(0.79,0.37),(0.85,0.36),(0.9,0.38),(0.96,0.35),(1.02,0.37),(1.08,0.36),(1.14,0.38),(1.2,0.35),(1.25,0.37),(1.31,0.36),(1.37,0.38),(1.43,0.35),(1.49,0.37),(1.55,0.36),(1.6,0.38),(1.66,0.35),(1.72,0.37),(1.78,0.36),(1.84,0.38),(1.9,0.35),(1.95,0.37),(2.01,0.36),(2.07,0.38),(2.13,0.35),(2.2,0.37),(2.28,0.36),(2.38,0.35),
(0.3,0.45),(0.36,0.47),(0.42,0.44),(0.48,0.46),(0.54,0.45),(0.6,0.47),(0.66,0.44),(0.72,0.46),(0.78,0.45),(0.84,0.47),(0.89,0.44),(0.95,0.46),(1.01,0.45),(1.07,0.47),(1.13,0.44),(1.19,0.46),(1.24,0.45),(1.3,0.47),(1.36,0.44),(1.42,0.46),(1.48,0.45),(1.54,0.47),(1.6,0.44),(1.66,0.46),(1.72,0.45),(1.78,0.47),(1.84,0.44),(1.9,0.46),(1.97,0.44),(2.05,0.43),
(0.38,0.54),(0.48,0.52),(0.58,0.55),(0.68,0.53),(0.78,0.56),(0.88,0.52),(0.98,0.55),(1.08,0.53),(1.18,0.56),(1.28,0.52),(1.38,0.55),(1.48,0.53),(1.58,0.56),(1.68,0.52),(1.8,0.54),(1.92,0.53)]

tfbs_core_mid = [(0.08,0.06),(0.14,0.05),(0.2,0.07),(0.26,0.06),(0.32,0.05),(0.38,0.07),(0.43,0.06),(0.49,0.05),(0.55,0.07),(0.61,0.06),(0.67,0.05),(0.73,0.07),(0.79,0.06),(0.84,0.05),(0.9,0.07),(0.96,0.06),(1.02,0.05),(1.08,0.07),(1.14,0.06),(1.19,0.05),(1.25,0.07),(1.31,0.06),(1.37,0.05),(1.43,0.07),(1.49,0.06),(1.54,0.05),(1.6,0.07),(1.66,0.06),(1.72,0.05),(1.78,0.07),(1.84,0.06),(1.89,0.05),(1.95,0.07),(2.01,0.06),(2.07,0.05),(2.13,0.07),(2.19,0.06),(2.24,0.05),(2.3,0.07),(2.36,0.06),(2.42,0.05),(2.48,0.07),(2.54,0.06),(2.59,0.05),(2.65,0.07),(2.71,0.06),(2.77,0.05),(2.83,0.07),(2.9,0.06),(2.97,0.05),
(0.05,0.14),(0.11,0.15),(0.17,0.13),(0.23,0.16),(0.29,0.14),(0.34,0.15),(0.4,0.13),(0.46,0.16),(0.52,0.14),(0.58,0.15),(0.64,0.13),(0.7,0.16),(0.75,0.14),(0.81,0.15),(0.87,0.13),(0.93,0.16),(0.99,0.14),(1.05,0.15),(1.1,0.13),(1.16,0.16),(1.22,0.14),(1.28,0.15),(1.34,0.13),(1.4,0.16),(1.45,0.14),(1.51,0.15),(1.57,0.13),(1.63,0.16),(1.69,0.14),(1.75,0.15),(1.8,0.13),(1.86,0.16),(1.92,0.14),(1.98,0.15),(2.04,0.13),(2.1,0.16),(2.15,0.14),(2.21,0.15),(2.27,0.13),(2.33,0.16),(2.39,0.14),(2.45,0.15),(2.5,0.13),(2.56,0.16),(2.62,0.14),(2.68,0.15),(2.74,0.13),(2.8,0.16),(2.87,0.14),
(0.08,0.24),(0.14,0.23),(0.2,0.25),(0.26,0.22),(0.32,0.24),(0.38,0.23),(0.44,0.25),(0.5,0.22),(0.56,0.24),(0.62,0.23),(0.68,0.25),(0.74,0.22),(0.79,0.24),(0.85,0.23),(0.91,0.25),(0.97,0.22),(1.03,0.24),(1.09,0.23),(1.14,0.25),(1.2,0.22),(1.26,0.24),(1.32,0.23),(1.38,0.25),(1.44,0.22),(1.49,0.24),(1.55,0.23),(1.61,0.25),(1.67,0.22),(1.73,0.24),(1.79,0.23),(1.84,0.25),(1.9,0.22),(1.96,0.24),(2.02,0.23),(2.08,0.25),(2.14,0.22),(2.19,0.24),(2.25,0.23),(2.31,0.25),(2.37,0.22),(2.43,0.24),(2.49,0.23),(2.54,0.25),(2.6,0.22),(2.66,0.24),(2.72,0.23),(2.79,0.22),
(0.12,0.32),(0.18,0.33),(0.24,0.31),(0.3,0.34),(0.36,0.32),(0.42,0.33),(0.48,0.31),(0.54,0.34),(0.6,0.32),(0.66,0.33),(0.71,0.31),(0.77,0.34),(0.83,0.32),(0.89,0.33),(0.95,0.31),(1.01,0.34),(1.06,0.32),(1.12,0.33),(1.18,0.31),(1.24,0.34),(1.3,0.32),(1.36,0.33),(1.41,0.31),(1.47,0.34),(1.53,0.32),(1.59,0.33),(1.65,0.31),(1.71,0.34),(1.76,0.32),(1.82,0.33),(1.88,0.31),(1.94,0.34),(2.0,0.32),(2.06,0.33),(2.11,0.31),(2.17,0.34),(2.23,0.32),(2.29,0.33),(2.35,0.31),(2.42,0.32),(2.5,0.31),(2.6,0.3),
(0.2,0.41),(0.26,0.42),(0.32,0.4),(0.38,0.43),(0.44,0.41),(0.5,0.42),(0.56,0.4),(0.62,0.43),(0.68,0.41),(0.74,0.42),(0.8,0.4),(0.86,0.43),(0.92,0.41),(0.98,0.42),(1.04,0.4),(1.1,0.43),(1.16,0.41),(1.22,0.42),(1.28,0.4),(1.34,0.43),(1.4,0.41),(1.46,0.42),(1.52,0.4),(1.58,0.43),(1.64,0.41),(1.7,0.42),(1.76,0.4),(1.82,0.43),(1.88,0.41),(1.94,0.42),(2.0,0.4),(2.07,0.41),(2.15,0.4),(2.25,0.39),
(0.35,0.49),(0.42,0.5),(0.49,0.48),(0.56,0.5),(0.63,0.49),(0.7,0.51),(0.77,0.48),(0.84,0.5),(0.91,0.49),(0.98,0.51),(1.05,0.48),(1.12,0.5),(1.19,0.49),(1.26,0.51),(1.33,0.48),(1.4,0.5),(1.47,0.49),(1.54,0.51),(1.61,0.48),(1.68,0.5),(1.75,0.49),(1.83,0.5),(1.92,0.48),(2.0,0.47)]

# Panel D: NGRE_AGG vs dN/dS -- sparse points
agg_sparse = [(2.91,4.45),(4.25,2.27),(4.36,1.74),(3.53,1.66),(4.55,1.53),(6.35,1.43),(7.67,1.46),(8.72,1.44),
(4.57,1.28),(4.91,1.28),(5.25,1.3),(4.51,1.21),(4.81,1.11),(5.01,1.17),(5.28,1.15),(3.85,1.27),(3.27,1.16),
(1.13,1.07),(0.93,1.0),(0.53,0.85),(0.51,0.64),(0.6,0.5),(2.64,1.04),(2.2,0.97),(2.2,0.9),(1.79,0.85),
(2.8,0.84),(3.11,0.9),(4.04,1.0),(4.35,1.02),(3.68,0.91),(4.24,0.92),(5.68,1.07),(5.71,0.99),(6.11,0.95),
(5.05,0.9),(5.44,0.86),(6.64,0.98),(7.0,1.01),(7.11,0.94),(7.55,0.89),(7.95,0.93),(8.11,0.91),(8.72,1.05),
(8.84,0.71),(9.11,0.69),(9.31,0.68),(10.2,0.68),(10.44,0.67),(10.75,0.68),(11.31,0.92),(11.15,0.51),
(10.35,0.51),(9.77,0.61),(12.41,0.82),(12.07,0.54),(12.6,0.58),(12.41,0.56),(11.81,0.45),(12.11,0.45),
(12.35,0.38),(12.71,0.26),(13.17,0.25),(13.67,0.3),(14.15,0.22),(14.61,0.46),(13.47,0.12),(13.17,0.07),
(12.95,0.0),(13.8,0.03),(12.77,0.12),(12.37,0.22),(12.17,0.05),(11.88,0.02),(15.53,0.0),(17.6,0.1),
(11.71,0.22),(11.51,0.3),(11.17,0.35),(8.24,0.63),(7.84,0.68),(7.31,0.68),(6.77,0.76),(6.37,0.71),
(3.31,0.76),(3.55,0.74),(2.97,0.71),(2.51,0.68),(1.44,0.63),(0.97,0.58),(0.24,0.38)]

# Panel D: dense core
agg_core = [(0.2,0.02),(0.42,0.01),(0.64,0.03),(0.86,0.0),(1.08,0.02),(1.3,0.01),(1.52,0.03),(1.74,0.02),(1.96,0.0),(2.18,0.02),(2.4,0.01),(2.62,0.03),(2.84,0.02),(3.06,0.0),(3.28,0.02),(3.5,0.01),(3.72,0.03),(3.94,0.02),(4.16,0.0),(4.38,0.01),(4.6,0.03),(4.82,0.02),(5.04,0.0),(5.26,0.02),(5.48,0.01),(5.7,0.03),(5.92,0.02),(6.14,0.0),(6.36,0.01),(6.58,0.03),(6.8,0.02),(7.02,0.0),(7.24,0.02),(7.46,0.01),(7.68,0.03),(7.9,0.02),(8.12,0.0),(8.34,0.01),(8.56,0.03),(8.78,0.02),(9.0,0.0),(9.22,0.02),(9.44,0.01),(9.66,0.03),(9.88,0.02),(10.1,0.0),(10.32,0.01),(10.54,0.03),(10.76,0.02),(10.98,0.0),(11.2,0.02),(11.45,0.01),(11.75,0.03),(12.1,0.02),
(0.3,0.1),(0.52,0.12),(0.74,0.09),(0.96,0.11),(1.18,0.1),(1.4,0.12),(1.62,0.09),(1.84,0.11),(2.06,0.1),(2.28,0.12),(2.5,0.09),(2.72,0.11),(2.94,0.1),(3.16,0.12),(3.38,0.09),(3.6,0.11),(3.82,0.1),(4.04,0.12),(4.26,0.09),(4.48,0.11),(4.7,0.1),(4.92,0.12),(5.14,0.09),(5.36,0.11),(5.58,0.1),(5.8,0.12),(6.02,0.09),(6.24,0.11),(6.46,0.1),(6.68,0.12),(6.9,0.09),(7.12,0.11),(7.34,0.1),(7.56,0.12),(7.78,0.09),(8.0,0.11),(8.22,0.1),(8.44,0.12),(8.66,0.09),(8.88,0.11),(9.1,0.1),(9.32,0.12),(9.54,0.09),(9.76,0.11),(9.98,0.1),(10.2,0.12),(10.42,0.09),(10.64,0.11),(10.86,0.1),(11.08,0.12),(11.32,0.09),(11.6,0.11),
(0.25,0.19),(0.47,0.2),(0.69,0.18),(0.91,0.21),(1.13,0.19),(1.35,0.2),(1.57,0.18),(1.79,0.21),(2.01,0.19),(2.23,0.2),(2.45,0.18),(2.67,0.21),(2.89,0.19),(3.11,0.2),(3.33,0.18),(3.55,0.21),(3.77,0.19),(3.99,0.2),(4.21,0.18),(4.43,0.21),(4.65,0.19),(4.87,0.2),(5.09,0.18),(5.31,0.21),(5.53,0.19),(5.75,0.2),(5.97,0.18),(6.19,0.21),(6.41,0.19),(6.63,0.2),(6.85,0.18),(7.07,0.21),(7.29,0.19),(7.51,0.2),(7.73,0.18),(7.95,0.21),(8.17,0.19),(8.39,0.2),(8.61,0.18),(8.83,0.21),(9.05,0.19),(9.27,0.2),(9.49,0.18),(9.71,0.21),(9.93,0.19),(10.15,0.2),(10.37,0.18),(10.59,0.21),(10.81,0.19),(11.05,0.2),(11.35,0.18),
(0.35,0.28),(0.58,0.27),(0.8,0.3),(1.02,0.28),(1.24,0.29),(1.46,0.27),(1.68,0.3),(1.9,0.28),(2.12,0.29),(2.34,0.27),(2.56,0.3),(2.78,0.28),(3.0,0.29),(3.22,0.27),(3.44,0.3),(3.66,0.28),(3.88,0.29),(4.1,0.27),(4.32,0.3),(4.54,0.28),(4.76,0.29),(4.98,0.27),(5.2,0.3),(5.42,0.28),(5.64,0.29),(5.86,0.27),(6.08,0.3),(6.3,0.28),(6.52,0.29),(6.74,0.27),(6.96,0.3),(7.18,0.28),(7.4,0.29),(7.62,0.27),(7.84,0.3),(8.06,0.28),(8.28,0.29),(8.5,0.27),(8.72,0.3),(8.94,0.28),(9.16,0.29),(9.38,0.27),(9.6,0.3),(9.82,0.28),(10.04,0.29),(10.28,0.27),(10.55,0.28),(10.85,0.26),
(0.5,0.36),(0.72,0.38),(0.94,0.35),(1.16,0.37),(1.38,0.36),(1.6,0.38),(1.82,0.35),(2.04,0.37),(2.26,0.36),(2.48,0.38),(2.7,0.35),(2.92,0.37),(3.14,0.36),(3.36,0.38),(3.58,0.35),(3.8,0.37),(4.02,0.36),(4.24,0.38),(4.46,0.35),(4.68,0.37),(4.9,0.36),(5.12,0.38),(5.34,0.35),(5.56,0.37),(5.78,0.36),(6.0,0.38),(6.22,0.35),(6.44,0.37),(6.66,0.36),(6.88,0.38),(7.1,0.35),(7.32,0.37),(7.54,0.36),(7.76,0.38),(7.98,0.35),(8.2,0.37),(8.42,0.36),(8.64,0.38),(8.86,0.35),(9.08,0.37),(9.3,0.36),(9.55,0.38),(9.8,0.35),(10.1,0.36),(10.4,0.34),
(0.9,0.45),(1.14,0.47),(1.36,0.44),(1.58,0.46),(1.8,0.45),(2.02,0.47),(2.24,0.44),(2.46,0.46),(2.68,0.45),(2.9,0.47),(3.12,0.44),(3.34,0.46),(3.56,0.45),(3.78,0.47),(4.0,0.44),(4.22,0.46),(4.44,0.45),(4.66,0.47),(4.88,0.44),(5.1,0.46),(5.32,0.45),(5.54,0.47),(5.76,0.44),(5.98,0.46),(6.2,0.45),(6.42,0.47),(6.64,0.44),(6.86,0.46),(7.08,0.45),(7.3,0.47),(7.52,0.44),(7.74,0.46),(7.96,0.45),(8.18,0.47),(8.4,0.44),(8.65,0.46),(8.9,0.44),(9.2,0.45),(9.55,0.43),
(1.3,0.54),(1.75,0.52),(2.2,0.55),(2.6,0.53),(3.0,0.56),(3.45,0.52),(3.9,0.55),(4.3,0.53),(4.75,0.56),(5.15,0.52),(5.6,0.55),(6.0,0.53),(6.45,0.56),(6.85,0.52),(7.3,0.55),(7.7,0.53),(8.15,0.52),(8.6,0.55)]

agg_core_mid = [(0.31,0.06),(0.53,0.05),(0.75,0.07),(0.97,0.06),(1.19,0.05),(1.41,0.07),(1.63,0.06),(1.85,0.05),(2.07,0.07),(2.29,0.06),(2.51,0.05),(2.73,0.07),(2.95,0.06),(3.17,0.05),(3.39,0.07),(3.61,0.06),(3.83,0.05),(4.05,0.07),(4.27,0.06),(4.49,0.05),(4.71,0.07),(4.93,0.06),(5.15,0.05),(5.37,0.07),(5.59,0.06),(5.81,0.05),(6.03,0.07),(6.25,0.06),(6.47,0.05),(6.69,0.07),(6.91,0.06),(7.13,0.05),(7.35,0.07),(7.57,0.06),(7.79,0.05),(8.01,0.07),(8.23,0.06),(8.45,0.05),(8.67,0.07),(8.89,0.06),(9.11,0.05),(9.33,0.07),(9.55,0.06),(9.77,0.05),(9.99,0.07),(10.21,0.06),(10.43,0.05),(10.65,0.07),(10.87,0.06),(11.09,0.05),(11.33,0.07),(11.6,0.06),(11.92,0.05),
(0.22,0.14),(0.44,0.15),(0.66,0.13),(0.88,0.16),(1.1,0.14),(1.32,0.15),(1.54,0.13),(1.76,0.16),(1.98,0.14),(2.2,0.15),(2.42,0.13),(2.64,0.16),(2.86,0.14),(3.08,0.15),(3.3,0.13),(3.52,0.16),(3.74,0.14),(3.96,0.15),(4.18,0.13),(4.4,0.16),(4.62,0.14),(4.84,0.15),(5.06,0.13),(5.28,0.16),(5.5,0.14),(5.72,0.15),(5.94,0.13),(6.16,0.16),(6.38,0.14),(6.6,0.15),(6.82,0.13),(7.04,0.16),(7.26,0.14),(7.48,0.15),(7.7,0.13),(7.92,0.16),(8.14,0.14),(8.36,0.15),(8.58,0.13),(8.8,0.16),(9.02,0.14),(9.24,0.15),(9.46,0.13),(9.68,0.16),(9.9,0.14),(10.12,0.15),(10.34,0.13),(10.56,0.16),(10.78,0.14),(11.0,0.15),(11.22,0.13),(11.48,0.14),
(0.3,0.24),(0.52,0.23),(0.74,0.25),(0.96,0.22),(1.18,0.24),(1.4,0.23),(1.62,0.25),(1.84,0.22),(2.06,0.24),(2.28,0.23),(2.5,0.25),(2.72,0.22),(2.94,0.24),(3.16,0.23),(3.38,0.25),(3.6,0.22),(3.82,0.24),(4.04,0.23),(4.26,0.25),(4.48,0.22),(4.7,0.24),(4.92,0.23),(5.14,0.25),(5.36,0.22),(5.58,0.24),(5.8,0.23),(6.02,0.25),(6.24,0.22),(6.46,0.24),(6.68,0.23),(6.9,0.25),(7.12,0.22),(7.34,0.24),(7.56,0.23),(7.78,0.25),(8.0,0.22),(8.22,0.24),(8.44,0.23),(8.66,0.25),(8.88,0.22),(9.1,0.24),(9.32,0.23),(9.54,0.25),(9.76,0.22),(9.98,0.24),(10.2,0.23),(10.42,0.25),(10.64,0.22),(10.9,0.24),(11.2,0.22),
(0.45,0.32),(0.68,0.33),(0.9,0.31),(1.12,0.34),(1.34,0.32),(1.56,0.33),(1.78,0.31),(2.0,0.34),(2.22,0.32),(2.44,0.33),(2.66,0.31),(2.88,0.34),(3.1,0.32),(3.32,0.33),(3.54,0.31),(3.76,0.34),(3.98,0.32),(4.2,0.33),(4.42,0.31),(4.64,0.34),(4.86,0.32),(5.08,0.33),(5.3,0.31),(5.52,0.34),(5.74,0.32),(5.96,0.33),(6.18,0.31),(6.4,0.34),(6.62,0.32),(6.84,0.33),(7.06,0.31),(7.28,0.34),(7.5,0.32),(7.72,0.33),(7.94,0.31),(8.16,0.34),(8.38,0.32),(8.6,0.33),(8.82,0.31),(9.04,0.34),(9.26,0.32),(9.48,0.33),(9.72,0.31),(9.96,0.32),(10.22,0.31),(10.5,0.3),
(0.7,0.41),(0.92,0.42),(1.14,0.4),(1.36,0.43),(1.58,0.41),(1.8,0.42),(2.02,0.4),(2.24,0.43),(2.46,0.41),(2.68,0.42),(2.9,0.4),(3.12,0.43),(3.34,0.41),(3.56,0.42),(3.78,0.4),(4.0,0.43),(4.22,0.41),(4.44,0.42),(4.66,0.4),(4.88,0.43),(5.1,0.41),(5.32,0.42),(5.54,0.4),(5.76,0.43),(5.98,0.41),(6.2,0.42),(6.42,0.4),(6.64,0.43),(6.86,0.41),(7.08,0.42),(7.3,0.4),(7.52,0.43),(7.74,0.41),(7.96,0.42),(8.18,0.4),(8.4,0.43),(8.62,0.41),(8.85,0.42),(9.1,0.4),(9.4,0.41),(9.75,0.39),(10.05,0.38),
(1.1,0.49),(1.37,0.5),(1.64,0.48),(1.91,0.5),(2.18,0.49),(2.45,0.51),(2.72,0.48),(2.99,0.5),(3.26,0.49),(3.53,0.51),(3.8,0.48),(4.07,0.5),(4.34,0.49),(4.61,0.51),(4.88,0.48),(5.15,0.5),(5.42,0.49),(5.69,0.51),(5.96,0.48),(6.23,0.5),(6.5,0.49),(6.77,0.51),(7.04,0.48),(7.31,0.5),(7.58,0.49),(7.85,0.51),(8.12,0.48),(8.4,0.5),(8.7,0.49),(9.05,0.47)]

x_ranges = [(-1.0, 20.9), (-1.0, 29.8), (-0.2, 4.84), (-0.67, 18.47)]
y_range = (-0.22, 4.67)

panel_points = [ac_core + ac_core_mid + ac_sparse,
                hc_core + hc_core_mid + hc_sparse,
                tfbs_core + tfbs_core_mid + tfbs_sparse,
                agg_core + agg_core_mid + agg_sparse]


def make_panel(i, width, height, left, right, top, bottom, tag_dx, txt_dx, s_stats, s_tag, xlab_standoff, tick_standoff):
    pts = panel_points[i]
    src = ColumnDataSource(dict(x=[q[0] for q in pts], y=[q[1] for q in pts]))
    p = figure(width=width, height=height, output_backend="svg", toolbar_location=None,
               title=None, x_range=Range1d(*x_ranges[i]), y_range=Range1d(*y_range),
               min_border_left=left, min_border_right=right,
               min_border_top=top, min_border_bottom=bottom)
    p.scatter("x", "y", source=src, size=7.5, marker="circle",
              fill_color="black", fill_alpha=0.7,
              line_color="black", line_alpha=0.7, line_width=1)
    p.grid.visible = False
    p.outline_line_color = None
    p.background_fill_color = "white"
    p.border_fill_color = "white"
    p.xaxis.ticker = FixedTicker(ticks=x_ticks[i])
    p.yaxis.ticker = FixedTicker(ticks=y_ticks)
    for ax in (p.xaxis[0], p.yaxis[0]):
        ax.axis_line_color = "black"
        ax.axis_line_width = 1.1
        ax.major_tick_line_color = "#333333"
        ax.major_tick_line_width = 1.1
        ax.major_tick_out = 4
        ax.major_tick_in = 0
        ax.minor_tick_line_color = None
        ax.major_label_text_font = FONT
        ax.major_label_text_font_size = "12.5px"
        ax.major_label_text_color = "#4D4D4D"
        ax.axis_label_text_font = FONT
        ax.axis_label_text_font_size = "16px"
        ax.axis_label_text_font_style = "normal"
        ax.axis_label_text_color = "black"
    p.xaxis[0].major_label_standoff = tick_standoff
    p.yaxis[0].major_label_standoff = 2
    p.xaxis[0].axis_label_standoff = xlab_standoff
    p.yaxis[0].axis_label_standoff = 1
    p.xaxis.axis_label = x_labels[i]
    p.yaxis.axis_label = "dN/dS"

    # stats (closest to the frame), then the bold panel tag above it
    p.add_layout(Title(text=rho_text[i] + "\n" + pval_text[i], align="left", offset=txt_dx,
                       text_font=FONT, text_font_size="15.5px", text_font_style="normal",
                       text_color="black", text_line_height=1.05, standoff=s_stats), "above")
    p.add_layout(Title(text=tags[i], align="left", offset=tag_dx, text_font=FONT,
                       text_font_size="17.5px", text_font_style="bold", text_color="black",
                       standoff=s_tag), "above")
    return p


pA = make_panel(0, 536, 433, 36, 26, 63, 54, -26, 0, 15, -21, 2, 2)
pB = make_panel(1, 536, 433, 42, 18, 63, 54, -27, 0, 15, -21, 2, 2)
pC = make_panel(2, 536, 420, 36, 26, 63, 40, -23, 0, 18, -30, 0, 1)
pD = make_panel(3, 536, 420, 41, 18, 63, 40, -26, 0, 18, -30, 0, 1)

layout = column(row(pA, pB), row(pC, pD))

with open("out.html", "w") as f:
    f.write(file_html(layout, INLINE))
